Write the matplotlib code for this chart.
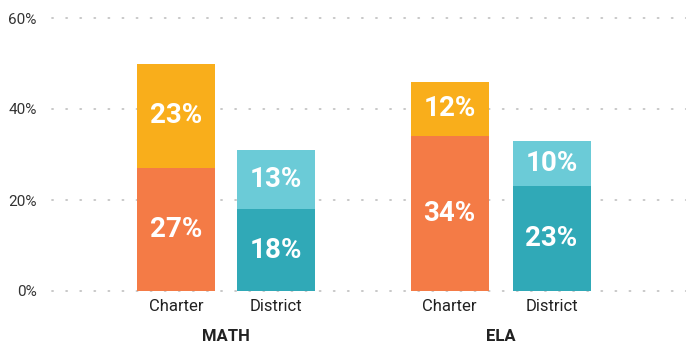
import numpy as np
import matplotlib.pyplot as plt

# Proficiency shares, split into two stacked segments per bar
subjects = ["MATH", "ELA"]
schools = ["Charter", "District"]
base_vals = [27, 18, 34, 23]
top_vals = [23, 13, 12, 10]
yticks = [0, 20, 40, 60]

base_colors = ["#F47B46", "#30A9B7", "#F47B46", "#30A9B7"]
top_colors = ["#F9AE1B", "#6BCBD7", "#F9AE1B", "#6BCBD7"]

plt.rcParams['font.family'] = ['Roboto', 'DejaVu Sans']

fig = plt.figure(figsize=(6.86, 3.45), dpi=100)
W, H = 686, 345
ax = fig.add_axes([52 / W, (H - 291) / H, (686 - 52) / W, (291 - 18) / H])

x = np.array([0.0, 1.0, 2.735, 3.755])
width = 0.78

ax.bar(x, base_vals, width=width, color=base_colors, zorder=3)
ax.bar(x, top_vals, width=width, bottom=base_vals, color=top_colors, zorder=3)

for xi, b, t in zip(x, base_vals, top_vals):
    ax.text(xi, b / 2, f"{b}%", ha="center", va="center", color="white",
            fontsize=20, fontweight="bold", zorder=4)
    ax.text(xi, b + t / 2, f"{t}%", ha="center", va="center", color="white",
            fontsize=20, fontweight="bold", zorder=4)

ax.set_xlim(-1.24, 5.1)
ax.set_ylim(0, 60)
ax.set_yticks(yticks)
ax.set_yticklabels([f"{v}%" for v in yticks], fontsize=11, color="#333333")
ax.tick_params(axis="y", length=0, pad=11)
ax.set_xticks(x)
ax.set_xticklabels(schools * 2, fontsize=12, color="#222222")
ax.tick_params(axis="x", length=0, pad=6)

for v in yticks:
    ax.axhline(v, color="#C4C4C4", linewidth=1.3, linestyle=(0, (0.6, 7.2)),
               dash_capstyle="round", zorder=1, clip_on=False)

for s in ax.spines.values():
    s.set_visible(False)

# subject names under each pair of bars
for i, subj in enumerate(subjects):
    cx = (x[2 * i] + x[2 * i + 1]) / 2
    ax.text(cx, -0.165, subj, transform=ax.get_xaxis_transform(), ha="center",
            va="center", fontsize=12, fontweight="bold", color="#222222")

fig.savefig("out.png", dpi=100)
